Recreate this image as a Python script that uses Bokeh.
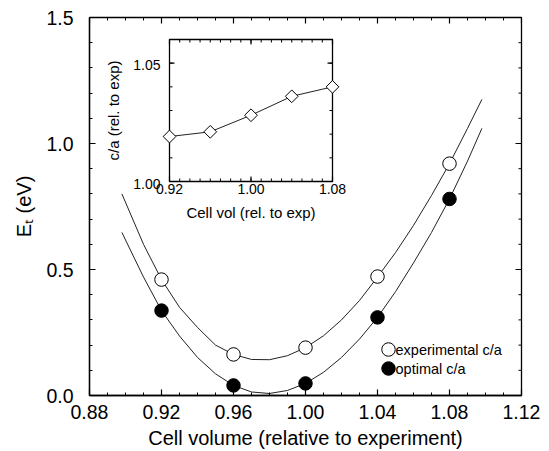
import numpy as np
from bokeh.plotting import figure
from bokeh.models import Range1d, FixedTicker, PrintfTickFormatter
from bokeh.core.properties import value
from bokeh.embed import file_html
from bokeh.resources import INLINE

FONT = "Liberation Sans"

# ---------------- data ----------------
x_lim = [0.88, 1.12]
y_lim = [0.0, 1.5]
x_ticks = [0.88, 0.92, 0.96, 1.00, 1.04, 1.08, 1.12]
x_tick_labels = ["0.88", "0.92", "0.96", "1.00", "1.04", "1.08", "1.12"]
y_ticks = [0.0, 0.5, 1.0, 1.5]
y_tick_labels = ["0.0", "0.5", "1.0", "1.5"]

vol = [0.92, 0.96, 1.00, 1.04, 1.08]
e_exp = [0.46, 0.163, 0.19, 0.472, 0.92]
e_opt = [0.337, 0.04, 0.048, 0.31, 0.78]

fit_vol = [0.898, 0.91, 0.92, 0.93, 0.94, 0.95, 0.96, 0.97, 0.98, 0.99, 1.00,
           1.01, 1.02, 1.03, 1.04, 1.05, 1.06, 1.07, 1.08, 1.09, 1.098]
fit_exp = [0.80, 0.60, 0.46, 0.35, 0.27, 0.20, 0.163, 0.143, 0.142, 0.158, 0.19,
           0.237, 0.30, 0.377, 0.47, 0.567, 0.675, 0.794, 0.92, 1.06, 1.175]
fit_opt = [0.647, 0.47, 0.337, 0.236, 0.151, 0.086, 0.04, 0.014, 0.008, 0.020, 0.048,
           0.092, 0.151, 0.224, 0.31, 0.412, 0.526, 0.647, 0.78, 0.93, 1.06]

legend_labels = ["experimental c/a", "optimal c/a"]

# inset
inset_xlim = [0.92, 1.08]
inset_ylim = [1.00, 1.06]
inset_xticks = [0.92, 1.00, 1.08]
inset_xtick_labels = ["0.92", "1.00", "1.08"]
inset_yticks = [1.00, 1.05]
inset_ytick_labels = ["1.00", "1.05"]
ca_vol = [0.92, 0.96, 1.00, 1.04, 1.08]
ca = [1.019, 1.021, 1.028, 1.036, 1.040]

# ---------------- layout constants ----------------
FRAME_W, FRAME_H = 432, 378
# inset box in frame pixels (from frame left / frame bottom)
IN_L, IN_R, IN_B, IN_T = 80, 243, 214, 356
sx = (inset_xlim[1] - inset_xlim[0]) / (IN_R - IN_L)
sy = (inset_ylim[1] - inset_ylim[0]) / (IN_T - IN_B)
ix0 = inset_xlim[0] - IN_L * sx
iy0 = inset_ylim[0] - IN_B * sy
# legend key positions in frame pixels
LEG_X, LEG_Y, LEG_DY, LEG_TX = 299, 46, 19, 306

p = figure(width=545, height=451, output_backend="svg", toolbar_location=None,
           title=None,
           x_range=Range1d(*x_lim), y_range=Range1d(*y_lim),
           min_border_left=89, min_border_right=24, min_border_top=17,
           min_border_bottom=56)
p.extra_x_ranges = {"ix": Range1d(ix0, ix0 + FRAME_W * sx), "px": Range1d(0, FRAME_W)}
p.extra_y_ranges = {"iy": Range1d(iy0, iy0 + FRAME_H * sy), "py": Range1d(0, FRAME_H)}
p.xgrid.visible = False
p.ygrid.visible = False
p.outline_line_color = "black"
p.outline_line_width = 1.3
p.background_fill_color = "white"
p.border_fill_color = "white"

x_minor = np.round(np.arange(x_lim[0], x_lim[1] + 1e-9, 0.01), 2).tolist()
y_minor = np.round(np.arange(y_lim[0], y_lim[1] + 1e-9, 0.1), 2).tolist()


def style_axis(ax):
    ax.major_tick_in = 6
    ax.major_tick_out = 0
    ax.minor_tick_in = 3
    ax.minor_tick_out = 0
    ax.axis_line_color = "black"
    ax.axis_line_width = 1.3
    ax.major_tick_line_color = "black"
    ax.major_tick_line_width = 1.2
    ax.minor_tick_line_color = "black"
    ax.minor_tick_line_width = 1
    ax.major_label_text_font = FONT
    ax.major_label_text_color = "black"
    ax.major_label_text_font_size = "19.5px"
    ax.axis_label_text_font = FONT
    ax.axis_label_text_font_style = "normal"
    ax.axis_label_text_color = "black"
    ax.axis_label_text_font_size = "20px"


xa = p.xaxis[0]
xa.ticker = FixedTicker(ticks=x_ticks, minor_ticks=x_minor)
xa.formatter = PrintfTickFormatter(format="%.2f")
xa.major_label_overrides = dict(zip(x_ticks, x_tick_labels))
xa.axis_label = "Cell volume (relative to experiment)"
style_axis(xa)
xa.major_label_standoff = 9
xa.axis_label_standoff = 5

ya = p.yaxis[0]
ya.ticker = FixedTicker(ticks=y_ticks, minor_ticks=y_minor)
ya.formatter = PrintfTickFormatter(format="%.1f")
ya.major_label_overrides = dict(zip(y_ticks, y_tick_labels))
ya.axis_label = "E\u209c (eV)"
style_axis(ya)
ya.major_label_standoff = 16
ya.axis_label_standoff = 8

# top / right inward ticks of the main frame
tk = dict(line_color="black", length_units="screen")
p.ray(x=x_minor, y=[y_lim[1]] * len(x_minor), length=3, angle=-np.pi / 2, line_width=1, **tk)
p.ray(x=x_ticks, y=[y_lim[1]] * len(x_ticks), length=6, angle=-np.pi / 2, line_width=1.2, **tk)
p.ray(x=[x_lim[1]] * len(y_minor), y=y_minor, length=3, angle=np.pi, line_width=1, **tk)
p.ray(x=[x_lim[1]] * len(y_ticks), y=y_ticks, length=6, angle=np.pi, line_width=1.2, **tk)

# ---------------- main curves and points ----------------
p.line(fit_vol, fit_exp, line_color="#222222", line_width=1)
p.line(fit_vol, fit_opt, line_color="#222222", line_width=1)
p.scatter(vol, e_exp, marker="circle", size=13.5, fill_color="white",
          line_color="black", line_width=1)
p.scatter(vol, e_opt, marker="circle", size=13.5, fill_color="black",
          line_color="black", line_width=1)

# ---------------- legend (keys placed in frame pixels) ----------------
PX = dict(x_range_name="px", y_range_name="py")
p.scatter([LEG_X], [LEG_Y], marker="circle", size=13.5, fill_color="white",
          line_color="black", line_width=1, **PX)
p.scatter([LEG_X], [LEG_Y - LEG_DY], marker="circle", size=13.5, fill_color="black",
          line_color="black", line_width=1, **PX)
p.text(x=[LEG_TX, LEG_TX], y=[LEG_Y, LEG_Y - LEG_DY], text=legend_labels,
       text_font=value(FONT), text_font_size=value("14.5px"), text_color="black",
       text_align="left", text_baseline="middle", **PX)

# ---------------- inset ----------------
R = dict(x_range_name="ix", y_range_name="iy")
p.quad(left=[inset_xlim[0]], right=[inset_xlim[1]], bottom=[inset_ylim[0]],
       top=[inset_ylim[1]], fill_color="white", line_color="black",
       line_width=1.3, **R)

in_xminor = np.round(np.arange(inset_xlim[0], inset_xlim[1] + 1e-9, 0.01), 2).tolist()
in_yminor = np.round(np.arange(inset_ylim[0], inset_ylim[1] + 1e-9, 0.01), 2).tolist()
tick_kw = dict(line_color="black", length_units="screen", **R)
p.ray(x=in_xminor, y=[inset_ylim[0]] * len(in_xminor), length=3, angle=np.pi / 2, line_width=1, **tick_kw)
p.ray(x=in_xminor, y=[inset_ylim[1]] * len(in_xminor), length=3, angle=-np.pi / 2, line_width=1, **tick_kw)
p.ray(x=inset_xticks, y=[inset_ylim[0]] * 3, length=5, angle=np.pi / 2, line_width=1.2, **tick_kw)
p.ray(x=inset_xticks, y=[inset_ylim[1]] * 3, length=5, angle=-np.pi / 2, line_width=1.2, **tick_kw)
p.ray(x=[inset_xlim[0]] * len(in_yminor), y=in_yminor, length=3, angle=0, line_width=1, **tick_kw)
p.ray(x=[inset_xlim[1]] * len(in_yminor), y=in_yminor, length=3, angle=np.pi, line_width=1, **tick_kw)
p.ray(x=[inset_xlim[0]] * 2, y=inset_yticks, length=5, angle=0, line_width=1.2, **tick_kw)
p.ray(x=[inset_xlim[1]] * 2, y=inset_yticks, length=5, angle=np.pi, line_width=1.2, **tick_kw)

p.line(ca_vol, ca, line_color="#222222", line_width=1, **R)
p.scatter(ca_vol, ca, marker="square", angle=np.pi / 4, size=9, fill_color="white",
          line_color="black", line_width=1, **R)

txt = dict(text_font=value(FONT), text_color="black", **R)
p.text(x=inset_xticks, y=[inset_ylim[0]] * 3, text=inset_xtick_labels,
       text_font_size=value("14px"), text_align="center", text_baseline="top",
       y_offset=2, **txt)
p.text(x=[inset_xlim[0]] * 2, y=inset_yticks, text=inset_ytick_labels,
       text_font_size=value("14px"), text_align="right", text_baseline="middle",
       x_offset=-9, y_offset=2, **txt)
p.text(x=[(inset_xlim[0] + inset_xlim[1]) / 2], y=[inset_ylim[0]],
       text=["Cell vol (rel. to exp)"], text_font_size=value("15px"),
       text_align="center", text_baseline="top", y_offset=22, **txt)
p.text(x=[inset_xlim[0]], y=[(inset_ylim[0] + inset_ylim[1]) / 2],
       text=["c/a (rel. to exp)"], text_font_size=value("15px"),
       text_align="center", text_baseline="middle", angle=np.pi / 2,
       x_offset=-56, **txt)

open("out.html", "w").write(file_html(p, INLINE))
